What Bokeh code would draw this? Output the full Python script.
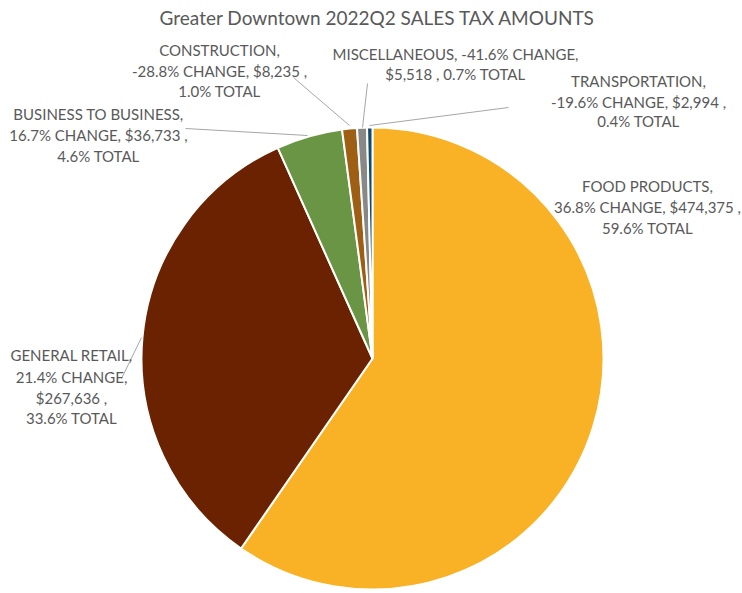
import numpy as np
from bokeh.plotting import figure
from bokeh.models import Range1d, ColumnDataSource
from bokeh.core.properties import value
from bokeh.embed import file_html
from bokeh.resources import INLINE

# ---- data ----
categories = ["FOOD PRODUCTS", "GENERAL RETAIL", "BUSINESS TO BUSINESS",
              "CONSTRUCTION", "MISCELLANEOUS", "TRANSPORTATION"]
amounts = [474375, 267636, 36733, 8235, 5518, 2994]
changes = ["36.8%", "21.4%", "16.7%", "-28.8%", "-41.6%", "-19.6%"]
shares = ["59.6%", "33.6%", "4.6%", "1.0%", "0.7%", "0.4%"]
colors = ["#F9B126", "#6A2200", "#6A9545", "#9E5F14", "#888888", "#0E4A6B"]
title_text = "Greater Downtown 2022Q2 SALES TAX AMOUNTS"

W, H = 742, 593
def sy(Y):  # screen Y -> data y
    return H - Y

p = figure(width=W, height=H, output_backend="svg", toolbar_location=None,
           x_range=Range1d(0, W), y_range=Range1d(0, H),
           min_border=0, outline_line_color=None)
p.axis.visible = False
p.grid.visible = False
p.background_fill_color = "white"

# pie
vals = np.array(amounts, dtype=float)
frac = vals / vals.sum()
cum = np.concatenate([[0], np.cumsum(frac)])
start = np.pi / 2 - 2 * np.pi * cum[:-1]
end = np.pi / 2 - 2 * np.pi * cum[1:]
cx, cy, r = 372, sy(358), 231
src = ColumnDataSource(dict(start=start, end=end, color=colors))
p.wedge(x=cx, y=cy, radius=r, start_angle="start", end_angle="end",
        direction="clock", fill_color="color", line_color="white",
        line_width=2, source=src)

# leader lines (screen coords)
leaders = [
    [(141, 337), (121, 378)],   # general retail
    [(185, 128), (307, 135)],   # b2b
    [(293, 77), (349, 125)],    # construction
    [(367, 83), (362, 127)],    # misc
    [(508, 107), (369, 125)],   # transportation
]
p.multi_line(xs=[[a[0], b[0]] for a, b in leaders],
             ys=[[sy(a[1]), sy(b[1])] for a, b in leaders],
             line_color="#A6A6A6", line_width=1)

def lab(i):
    return categories[i], changes[i], f"${amounts[i]:,}", shares[i]

label_lines = []
c, ch, a, s = lab(0)
label_lines.append((647, [185, 206, 227], [c + ",", f"{ch} CHANGE, {a} ,", f"{s} TOTAL"]))
c, ch, a, s = lab(1)
label_lines.append((71, [354, 376, 397, 417], [c + ",", f"{ch} CHANGE,", f"{a} ,", f"{s} TOTAL"]))
c, ch, a, s = lab(2)
label_lines.append((98, [113, 134, 155], [c + ",", f"{ch} CHANGE, {a} ,", f"{s} TOTAL"]))
c, ch, a, s = lab(3)
label_lines.append((219, [49, 70, 90], [c + ",", f"{ch} CHANGE, {a} ,", f"{s} TOTAL"]))
c, ch, a, s = lab(4)
label_lines.append((455, [53, 73], [f"{c}, {ch} CHANGE,", f"{a} , {s} TOTAL"]))
c, ch, a, s = lab(5)
label_lines.append((638, [80, 101, 120], [c + ",", f"{ch} CHANGE, {a} ,", f"{s} TOTAL"]))

tx, ty, tt = [], [], []
for x, ys, lines in label_lines:
    for Y, t in zip(ys, lines):
        tx.append(x); ty.append(sy(Y)); tt.append(t)
p.text(x=tx, y=ty, text=tt, text_align="center", text_baseline="middle",
       text_font=value("Lato"), text_font_size="15px", text_color="#595959")

p.text(x=[377], y=[sy(17)], text=[title_text], text_align="center",
       text_baseline="middle", text_font=value("Lato"),
       text_font_size="19px", text_color="#595959")

open("out.html", "w").write(file_html(p, INLINE))
